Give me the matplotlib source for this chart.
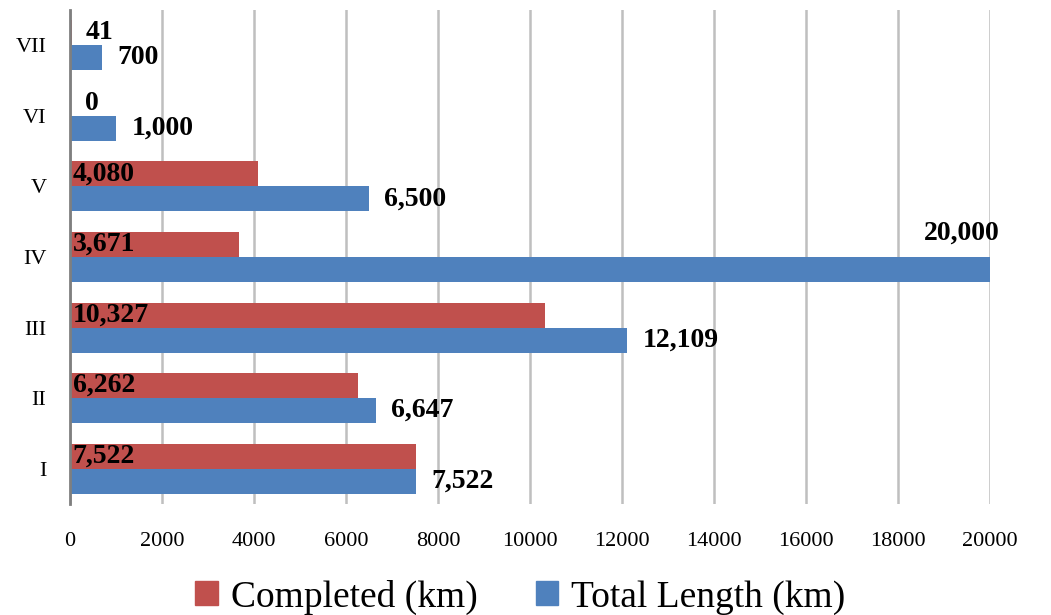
import numpy as np
import matplotlib
matplotlib.use("Agg")
import matplotlib.pyplot as plt
from matplotlib.patches import Patch

# Data
phases = ["I", "II", "III", "IV", "V", "VI", "VII"]
completed = [7522, 6262, 10327, 3671, 4080, 0, 41]
total_length = [7522, 6647, 12109, 20000, 6500, 1000, 700]
xticks = [0, 2000, 4000, 6000, 8000, 10000, 12000, 14000, 16000, 18000, 20000]

red = "#C0504D"
blue = "#4F81BD"

plt.rcParams['font.family'] = ['Liberation Serif', 'DejaVu Serif']

fig = plt.figure(figsize=(10.51, 6.15), dpi=100)
ax = fig.add_axes([70 / 1051, 111 / 615, 920 / 1051, 494 / 615])

y = np.arange(len(phases))
h = 0.355
ax.barh(y + h / 2, completed, height=h, color=red, zorder=3)
ax.barh(y - h / 2, total_length, height=h, color=blue, zorder=3)

ax.set_xlim(0, 20000)
ax.set_ylim(-0.5, len(phases) - 0.5)
ax.set_xticks(xticks)
ax.set_xticklabels([str(t) for t in xticks], fontsize=16)
ax.set_yticks(y)
ax.set_yticklabels(phases, fontsize=16)
ax.tick_params(axis='x', length=0, pad=20)
ax.tick_params(axis='y', length=0, pad=17)

ax.grid(axis='x', color='#BFBFBF', linewidth=1.8, zorder=0)
for s in ['top', 'right', 'bottom']:
    ax.spines[s].set_visible(False)
ax.spines['left'].set_color('#7F7F7F')
ax.spines['left'].set_linewidth(2)
ax.spines['left'].set_zorder(4)

# labels for completed, inside base
for yi, v in zip(y, completed):
    off = 2 if v > 500 else 11
    ax.annotate(f"{v:,}", (0, yi + h / 2), xytext=(off, 0), textcoords='offset points',
                ha='left', va='center', fontsize=20, fontweight='bold', zorder=5)

# labels for total length, outside end
for yi, v in zip(y, total_length):
    if v >= 19000:
        ax.annotate(f"{v:,}", (v, yi - h / 2), xytext=(7, 26), textcoords='offset points',
                    ha='right', va='center', fontsize=20, fontweight='bold', zorder=5,
                    annotation_clip=False)
    else:
        ax.annotate(f"{v:,}", (v, yi - h / 2), xytext=(11, 0), textcoords='offset points',
                    ha='left', va='center', fontsize=20, fontweight='bold', zorder=5)

handles = [Patch(color=red, label="Completed (km)"), Patch(color=blue, label="Total Length (km)")]
fig.legend(handles=handles, loc='center', bbox_to_anchor=(0.5 - 5 / 1051, 18 / 615), ncol=2,
           frameon=False, fontsize=27, handlelength=0.6, handleheight=0.6,
           handletextpad=0.35, columnspacing=1.55)

fig.savefig("out.png", dpi=100)
